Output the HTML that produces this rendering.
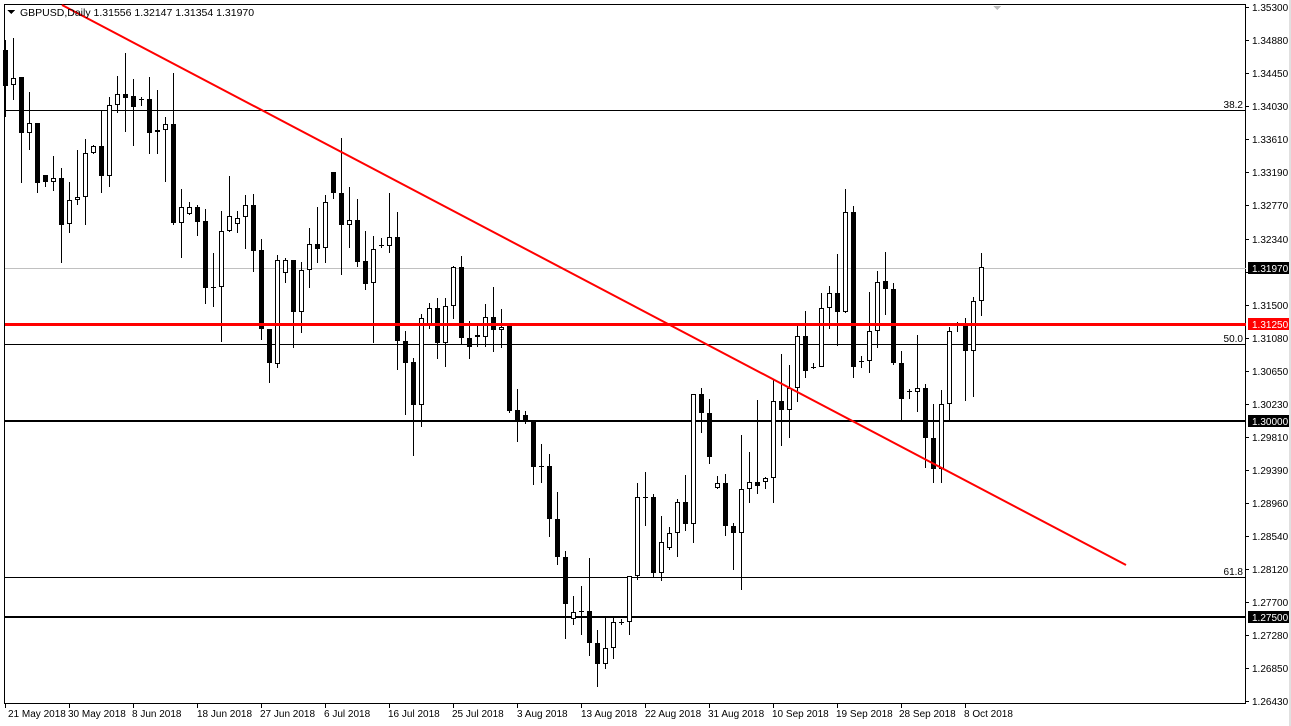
<!DOCTYPE html>
<html><head><meta charset="utf-8"><style>
html,body{margin:0;padding:0;background:#fff;}
svg{display:block;}
text{font-family:"Liberation Sans",sans-serif;}
</style></head><body>
<svg id="c" width="1291" height="726" xmlns="http://www.w3.org/2000/svg" shape-rendering="crispEdges">
<rect x="0" y="0" width="1291" height="726" fill="#fff"/>
<rect x="4.5" y="4.5" width="1241" height="699" fill="none" stroke="#000"/>
<line x1="1246" y1="268.5" x2="5" y2="268.5" stroke="#c0c0c0"/>
<line x1="5" y1="110.5" x2="1246" y2="110.5" stroke="#000"/>
<line x1="5" y1="344.5" x2="1246" y2="344.5" stroke="#000"/>
<line x1="5" y1="577.5" x2="1246" y2="577.5" stroke="#000"/>
<rect x="5" y="420" width="1241" height="2" fill="#000"/>
<rect x="5" y="616" width="1241" height="2" fill="#000"/>
<g id="candles"></g>
<rect x="5" y="323" width="1241" height="3" fill="#ff0000"/>
<line x1="62" y1="5" x2="1126" y2="565" stroke="#ff0000" stroke-width="2" shape-rendering="auto"/>
<g font-size="10" fill="#000">
<text x="1243" y="108" text-anchor="end">38.2</text>
<text x="1243" y="342" text-anchor="end">50.0</text>
<text x="1243" y="575" text-anchor="end">61.8</text>
</g>
<polygon points="7,10 15,10 11,14" fill="#000"/>
<polygon points="993,6 1001,6 997,10" fill="#bbb"/>
<text x="20" y="16" font-size="10.5" fill="#000">GBPUSD,Daily  1.31556 1.32147 1.31354 1.31970</text>
<g id="ax" font-size="10" fill="#000"></g>
<g font-size="10" fill="#000">
<text x="8" y="717">21 May 2018</text><text x="68" y="717">30 May 2018</text><text x="132" y="717">8 Jun 2018</text><text x="197" y="717">18 Jun 2018</text><text x="260" y="717">27 Jun 2018</text><text x="324" y="717">6 Jul 2018</text><text x="388" y="717">16 Jul 2018</text><text x="452" y="717">25 Jul 2018</text><text x="517" y="717">3 Aug 2018</text><text x="581" y="717">13 Aug 2018</text><text x="645" y="717">22 Aug 2018</text><text x="708" y="717">31 Aug 2018</text><text x="772" y="717">10 Sep 2018</text><text x="836" y="717">19 Sep 2018</text><text x="899" y="717">28 Sep 2018</text><text x="964" y="717">8 Oct 2018</text>
</g>
<g font-size="10">
<text x="1252" y="11">1.35300</text><text x="1252" y="44">1.34880</text><text x="1252" y="77">1.34450</text><text x="1252" y="110">1.34030</text><text x="1252" y="143">1.33610</text><text x="1252" y="176">1.33190</text><text x="1252" y="209">1.32770</text><text x="1252" y="243">1.32340</text><text x="1252" y="309">1.31500</text><text x="1252" y="342">1.31080</text><text x="1252" y="375">1.30650</text><text x="1252" y="408">1.30230</text><text x="1252" y="441">1.29810</text><text x="1252" y="474">1.29390</text><text x="1252" y="507">1.28960</text><text x="1252" y="540">1.28540</text><text x="1252" y="573">1.28120</text><text x="1252" y="606">1.27700</text><text x="1252" y="639">1.27280</text><text x="1252" y="672">1.26850</text><text x="1252" y="705">1.26430</text>
<rect x="1248" y="262" width="41" height="12" fill="#000"/><text x="1252" y="272" fill="#fff">1.31970</text>
<rect x="1248" y="318" width="41" height="12" fill="#ff0000"/><text x="1252" y="328" fill="#fff">1.31250</text>
<rect x="1248" y="415" width="41" height="12" fill="#000"/><text x="1252" y="425" fill="#fff">1.30000</text>
<rect x="1248" y="611" width="41" height="12" fill="#000"/><text x="1252" y="621" fill="#fff">1.27500</text>
</g>
<g id="ticks"></g>
<rect x="1289" y="0" width="2" height="726" fill="#e0e0e0"/>
</svg>
<script>
var D=[[40,50,86,117,0],[38,78,85,100,1],[77,77,133,183,0],[92,123,133,150,1],[123,123,183,193,0],[175,175,182,187,0],[156,178,182,191,1],[168,178,225,263,0],[182,200,224,233,1],[150,197,200,205,1],[139,153,197,225,1],[145,146,153,154,1],[110,146,176,193,0],[97,105,176,187,1],[76,94,105,113,1],[53,94,98,132,0],[79,96,107,146,0],[97,99,99,106,2],[77,99,133,154,0],[90,130,132,154,1],[117,124,130,182,1],[73,124,223,225,0],[189,207,223,258,1],[202,207,214,215,1],[205,207,222,236,0],[209,221,288,304,0],[253,287,287,307,2],[211,231,287,342,1],[176,216,231,232,1],[211,218,224,233,1],[195,205,217,249,1],[194,205,251,272,0],[239,250,329,340,0],[329,329,363,383,0],[255,260,364,368,1],[258,260,273,283,1],[260,260,312,348,0],[262,270,312,333,1],[228,244,270,288,1],[207,244,249,263,0],[195,202,248,263,1],[172,172,193,199,0],
[138,193,225,275,0],[187,220,225,248,1],[199,220,262,267,0],[231,261,284,290,0],[236,249,283,343,1],[238,245,245,248,2],[193,237,246,253,1],[212,237,341,370,0],[331,341,363,415,0],[358,362,405,456,0],[314,318,405,427,1],[303,308,324,329,1],[298,308,343,359,0],[298,306,343,367,1],[266,267,306,319,1],[256,267,338,345,0],[321,338,347,359,0],[325,335,337,347,0],[304,317,337,347,1],[287,317,330,352,0],[309,327,330,348,1],[326,326,411,413,0],[389,410,421,442,0],[411,415,421,424,0],[420,421,467,485,0],[444,466,466,483,2],[454,466,519,537,0],[492,519,557,565,0],[551,557,604,639,0],[596,612,619,625,1],[586,611,611,635,2],[558,611,643,656,0],[630,643,664,687,0],[616,648,664,669,1],[616,622,648,659,1],[619,622,622,625,2],[576,576,622,635,1],[483,497,576,580,1],[472,497,497,526,2],[494,497,573,578,0],[516,542,573,581,1],
[527,533,548,550,1],[499,502,533,557,1],[475,502,524,531,0],[394,394,524,543,1],[388,394,413,433,0],[399,413,457,464,0],[476,483,488,489,1],[474,483,526,536,0],[523,526,533,570,0],[435,489,533,590,1],[452,482,489,503,1],[400,482,486,494,0],[477,478,482,489,1],[380,401,478,503,1],[354,401,410,446,0],[365,388,410,438,1],[326,336,388,402,1],[311,336,371,378,0],[363,367,367,369,2],[293,308,367,367,1],[286,293,308,329,1],[254,293,312,346,0],[189,212,312,313,1],[206,212,367,378,0],[356,361,361,368,2],[292,331,361,373,1],[271,282,331,348,1],[252,281,289,315,0],[283,289,363,365,0],[351,363,399,420,0],[389,391,391,399,2],[335,388,392,412,1],[384,388,438,468,0],[404,438,469,483,0],[390,404,469,483,1],[327,331,404,420,1],[322,324,324,332,2],[318,324,351,401,0],[297,301,351,397,1],[253,267,301,316,1]];
var ns="http://www.w3.org/2000/svg",g=document.getElementById("candles"),h="";
for(var i=0;i<D.length;i++){var d=D[i],cx=5+8*i;
h+='<rect x="'+cx+'" y="'+d[0]+'" width="1" height="'+Math.max(1,d[3]-d[0])+'" fill="#000"/>';
if(d[4]==2){h+='<rect x="'+(cx-2)+'" y="'+d[1]+'" width="5" height="1" fill="#000"/>';}
else if(d[4]==0){h+='<rect x="'+(cx-2)+'" y="'+d[1]+'" width="5" height="'+Math.max(1,d[2]-d[1])+'" fill="#000"/>';}
else{h+='<rect x="'+(cx-1.5)+'" y="'+(d[1]+0.5)+'" width="4" height="'+Math.max(1,d[2]-d[1]-1)+'" fill="#fff" stroke="#000"/>';}
}
g.innerHTML=h;
var t="",ys=[7,40,73,106,139,172,205,239,272,305,338,371,404,437,470,503,536,569,602,635,668,701];
for(var j=0;j<ys.length;j++)t+='<rect x="1246" y="'+ys[j]+'" width="3" height="1" fill="#000"/>';
for(var k=0;k<16;k++)t+='<rect x="'+(5+64*k)+'" y="704" width="1" height="4" fill="#000"/>';
document.getElementById("ticks").innerHTML=t;
</script>
</body></html>
